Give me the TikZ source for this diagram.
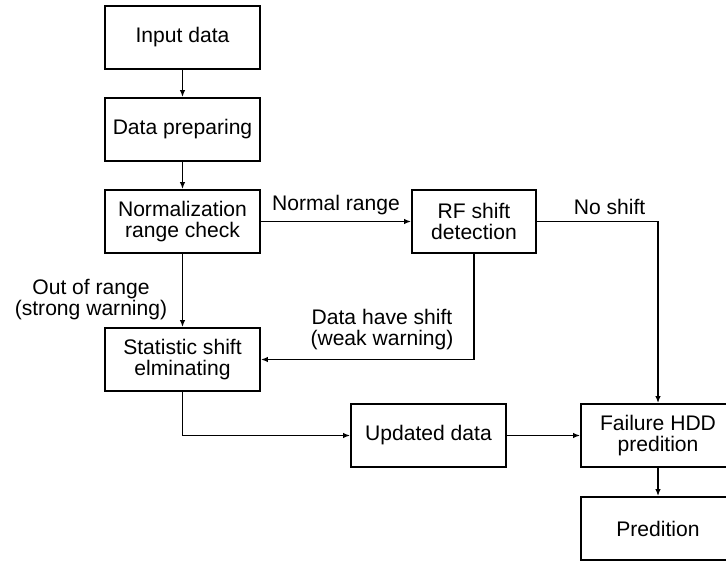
\documentclass[tikz,border=0pt]{standalone}
\usepackage{fontspec}
\setmainfont{Liberation Sans}
\usetikzlibrary{arrows.meta}
\tikzset{
  stepbox/.style={draw,line width=1pt,minimum width=3.1cm,minimum height=1.26cm,align=center,inner sep=1pt},
  flow/.style={line width=0.9pt,-{Latex[length=1.4mm,width=1.1mm]}},
  lbl/.style={align=center,inner sep=0pt}
}
\begin{document}
\begin{tikzpicture}[font=\fontsize{12}{12}\selectfont]
\useasboundingbox (0,0) rectangle (14.52,11.2);
% boxes
\node[stepbox] (input) at (3.65,10.45) {Input data};
\node[stepbox] (prep) at (3.65,8.61) {Data preparing};
\node[stepbox] (norm) at (3.65,6.77) {Normalization\\range check};
\node[stepbox,minimum width=2.48cm] (rf) at (9.48,6.77) {RF shift\\detection};
\node[stepbox] (stat) at (3.65,4.01) {Statistic shift\\elminating};
\node[stepbox] (upd) at (8.57,2.49) {Updated data};
\node[stepbox,minimum width=3.08cm] (fail) at (13.16,2.49) {Failure HDD\\predition};
\node[stepbox,minimum width=3.08cm] (pred) at (13.16,0.63) {Predition};
% labels
\node[lbl] (outrange) at (1.82,5.2) {Out of range\\(strong warning)};
\node[lbl] (haveshift) at (7.64,4.6) {Data have shift\\(weak warning)};
% arrows
\draw[flow] (input) -- (prep);
\draw[flow] (prep) -- (norm);
\draw[flow] (norm) -- node[above] {Normal range} (rf);
\draw[flow] (norm) -- (stat);
\draw[flow] (rf.south) |- (stat.east);
\draw[flow] (rf.east) -| node[pos=0.3,above] {No shift} (fail.north);
\draw[flow] (stat.south) |- (upd.west);
\draw[flow] (upd) -- (fail);
\draw[flow] (fail) -- (pred);
\end{tikzpicture}
\end{document}
